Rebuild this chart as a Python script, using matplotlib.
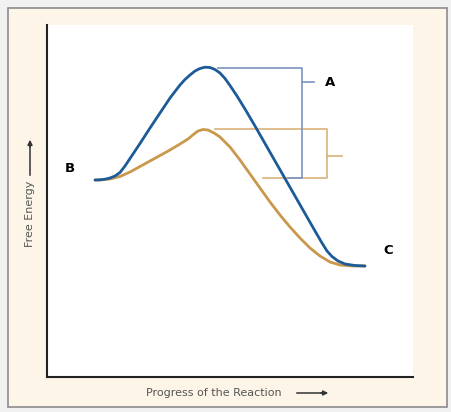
import matplotlib.pyplot as plt
from matplotlib.patches import Rectangle

# curve points (progress, free energy)
blue_x = [48, 53, 58, 63, 68, 73, 78, 83, 88, 93, 103, 113, 123, 133, 138, 143, 148, 153,
          158, 163, 168, 173, 178, 183, 190, 198, 208, 218, 228, 238, 248, 258, 268, 275,
          280, 285, 291, 298, 308, 318]
blue_y = [197, 197.2, 197.8, 199, 201, 204.5, 211, 218.5, 226, 233.5, 249, 264, 279, 292,
          297.5, 302, 306, 308.5, 309.8, 309.5, 307.5, 304, 298.5, 291.5, 281, 268, 251,
          233.5, 216, 198.5, 181, 163.5, 146, 134, 126, 120.5, 116, 113, 111.5, 111]
orange_x = [48, 53, 63, 73, 83, 93, 103, 113, 123, 133, 141, 147, 151, 156, 161, 167,
            173, 183, 193, 203, 213, 223, 233, 243, 253, 263, 273, 283, 293, 305, 318]
orange_y = [197, 197, 198, 200.5, 205, 210.5, 216, 221.5, 227, 233, 238, 243, 246, 247.5,
            247, 244, 240, 230, 217, 203, 189, 175, 162, 150, 139, 129, 121, 115, 112, 111, 111]

# energy levels marked by the brackets
start_level = 199
blue_peak = 309
orange_peak = 248

fig = plt.figure(figsize=(4.51, 4.12), dpi=100)
fig.patch.set_facecolor('#f1f1f1')
W, H = 451.0, 412.0
frame = Rectangle((8 / W, 1 - 407 / H), 439 / W, 399 / H, transform=fig.transFigure,
                  facecolor='#fdf6e8', edgecolor='#8c8c8c', lw=1.2, zorder=-5)
fig.add_artist(frame)

ax = fig.add_axes([47 / W, 1 - 377 / H, 366 / W, 352 / H])
ax.set_facecolor('white')
ax.set_xlim(0, 366)
ax.set_ylim(0, 352)
for s in ['top', 'right']:
    ax.spines[s].set_visible(False)
for s in ['left', 'bottom']:
    ax.spines[s].set_color('#222222')
    ax.spines[s].set_linewidth(1.5)
ax.set_xticks([])
ax.set_yticks([])

bc = '#7b93c0'
oc = '#d9b17b'
blw = 1.2
# orange bracket
ax.plot([168, 280, 280, 216], [orange_peak, orange_peak, start_level, start_level], color=oc, lw=blw)
ax.plot([280, 295], [221, 221], color=oc, lw=blw)
# blue bracket
ax.plot([171, 255, 255, 241], [blue_peak, blue_peak, start_level, start_level], color=bc, lw=blw)
ax.plot([255, 267], [295, 295], color=bc, lw=blw)

ax.plot(orange_x, orange_y, color='#c9984c', lw=2.0, solid_capstyle='round', solid_joinstyle='round')
ax.plot(blue_x, blue_y, color='#1d5b98', lw=2.0, solid_capstyle='round', solid_joinstyle='round')

ax.text(278, 295, 'A', fontsize=9.5, fontweight='bold', va='center', ha='left')
ax.text(23, 209, 'B', fontsize=9.5, fontweight='bold', va='center', ha='center')
ax.text(341, 127, 'C', fontsize=9.5, fontweight='bold', va='center', ha='center')

tc = '#555555'
fig.text(30 / W, 1 - 214 / H, 'Free Energy', rotation=90, fontsize=8, color=tc,
         ha='center', va='center')
fig.text(214 / W, 1 - 393 / H, 'Progress of the Reaction', fontsize=8, color=tc,
         ha='center', va='center')
fig.add_artist(plt.Line2D([30 / W, 30 / W], [1 - 175 / H, 1 - 142 / H], color='#333333', lw=1.1))
fig.add_artist(plt.Line2D([297 / W, 326 / W], [1 - 393 / H, 1 - 393 / H], color='#333333', lw=1.1))
ax.annotate('', xy=(30 / W, 1 - 137 / H), xytext=(30 / W, 1 - 150 / H), xycoords='figure fraction',
            annotation_clip=False,
            arrowprops=dict(arrowstyle='-|>', color='#333333', lw=1.1, mutation_scale=7))
ax.annotate('', xy=(331 / W, 1 - 393 / H), xytext=(318 / W, 1 - 393 / H), xycoords='figure fraction',
            annotation_clip=False,
            arrowprops=dict(arrowstyle='-|>', color='#333333', lw=1.1, mutation_scale=7))

fig.savefig('out.png', dpi=100, facecolor=fig.get_facecolor())
